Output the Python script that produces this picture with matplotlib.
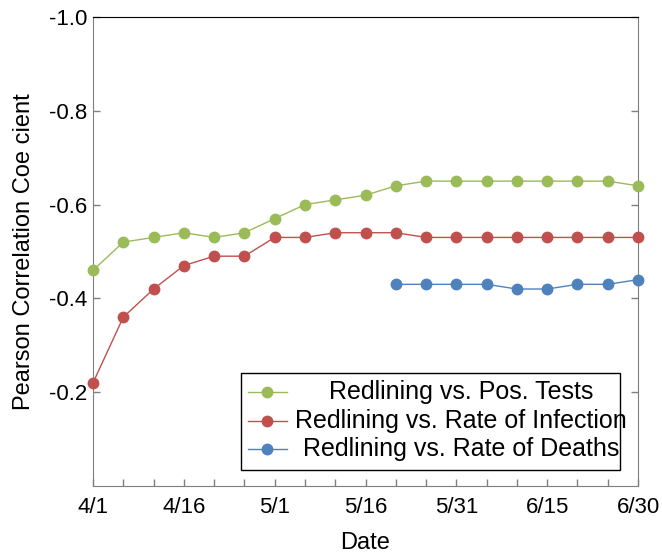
"""
Pearson correlation between redlining and COVID-19 measures, April to June.
"""
import matplotlib
matplotlib.use('Agg')
import matplotlib.pyplot as plt
from matplotlib.lines import Line2D
from matplotlib.patches import Rectangle
import pandas as pd

dates = ['4/1', '4/6', '4/11', '4/16', '4/21', '4/26', '5/1', '5/6', '5/11',
         '5/16', '5/21', '5/26', '5/31', '6/5', '6/10', '6/15', '6/20',
         '6/25', '6/30']
pos_tests = [-0.46, -0.52, -0.53, -0.54, -0.53, -0.54, -0.57, -0.60, -0.61,
             -0.62, -0.64, -0.65, -0.65, -0.65, -0.65, -0.65, -0.65, -0.65,
             -0.64]
infection = [-0.22, -0.36, -0.42, -0.47, -0.49, -0.49, -0.53, -0.53, -0.54,
             -0.54, -0.54, -0.53, -0.53, -0.53, -0.53, -0.53, -0.53, -0.53,
             -0.53]
death_dates = ['5/21', '5/26', '5/31', '6/5', '6/10', '6/15', '6/20', '6/25',
               '6/30']
deaths = [-0.43, -0.43, -0.43, -0.43, -0.42, -0.42, -0.43, -0.43, -0.44]

x_ticks = ['4/1', '4/16', '5/1', '5/16', '5/31', '6/15', '6/30']
y_ticks = [-1.0, -0.8, -0.6, -0.4, -0.2]

labels = ['Redlining vs. Pos. Tests',
          'Redlining vs. Rate of Infection',
          'Redlining vs. Rate of Deaths']
colors = ['#9bbb59', '#c0504d', '#4f81bd']


def to_date(days):
    return pd.to_datetime(['2020/' + d for d in days], format='%Y/%m/%d')


plt.rcParams['font.family'] = ['Liberation Sans', 'DejaVu Sans']

fig = plt.figure(figsize=(6.62, 5.55), dpi=100)
ax = fig.add_axes([0.1405, 0.1243, 0.8233, 0.8451])

series = [(dates, pos_tests), (dates, infection), (death_dates, deaths)]
for (d, vals), color in zip(series, colors):
    ax.plot(to_date(d), vals, '-o', color=color, lw=1.0, ms=7.5,
            clip_on=False, zorder=3)

ax.set_xlim(to_date(['4/1'])[0], to_date(['6/30'])[0])
ax.set_ylim(0, -1.0)

ax.set_xticks(to_date(x_ticks))
ax.set_xticklabels(x_ticks)
ax.set_xticks(to_date(dates), minor=True)
ax.set_yticks(y_ticks)
ax.set_yticklabels(['%.1f' % v for v in y_ticks])

grey = '#7f7f7f'
for side in ['left', 'right', 'bottom']:
    ax.spines[side].set_color(grey)
ax.spines['top'].set_color('black')
ax.tick_params(axis='both', which='both', direction='in', color=grey,
               labelsize=16, length=5, width=1)
ax.tick_params(axis='y', right=True, pad=4)
ax.tick_params(axis='x', which='both', pad=8)

ax.set_xlabel('Date', fontsize=17, labelpad=10)
ax.set_ylabel('Pearson Correlation Coe cient', fontsize=17, labelpad=10)

# legend with centred entries
ax.add_patch(Rectangle((0.2716, 0.0341), 0.6954, 0.2068,
                       transform=ax.transAxes, facecolor='white',
                       edgecolor='black', lw=1.0, zorder=4))
for i, (label, color) in enumerate(zip(labels, colors)):
    y = 0.2004 - i * 0.0608
    ax.add_line(Line2D([0.2844, 0.356], [y, y], color=color, lw=1.0,
                       transform=ax.transAxes, zorder=5))
    ax.add_line(Line2D([0.320], [y], marker='o', color=color, ms=7.5,
                       transform=ax.transAxes, zorder=5))
    ax.text(0.675, y, label, transform=ax.transAxes, ha='center',
            va='center', fontsize=18, zorder=6)

fig.savefig('out.png', dpi=100)
